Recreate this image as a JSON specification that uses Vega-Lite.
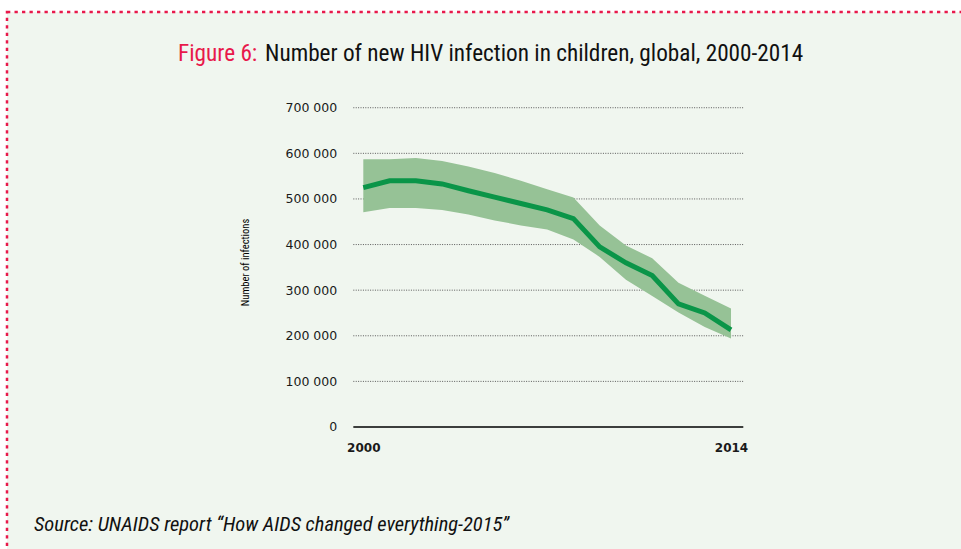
{
  "$schema": "https://vega.github.io/schema/vega-lite/v6.json",
  "width": 957,
  "height": 540,
  "autosize": {"type": "none"},
  "padding": {"left": 7, "top": 12, "right": -3, "bottom": -3},
  "background": "#ffffff",
  "datasets": {
    "hiv": [
      {"year": 2000, "central": 525000, "upper": 587000, "lower": 471000},
      {"year": 2001, "central": 540000, "upper": 587000, "lower": 480000},
      {"year": 2002, "central": 540000, "upper": 590000, "lower": 480000},
      {"year": 2003, "central": 533000, "upper": 583000, "lower": 476000},
      {"year": 2004, "central": 518000, "upper": 571000, "lower": 466000},
      {"year": 2005, "central": 504000, "upper": 557000, "lower": 453000},
      {"year": 2006, "central": 490000, "upper": 540000, "lower": 442000},
      {"year": 2007, "central": 476000, "upper": 521000, "lower": 433000},
      {"year": 2008, "central": 457000, "upper": 503000, "lower": 411000},
      {"year": 2009, "central": 395000, "upper": 442000, "lower": 373000},
      {"year": 2010, "central": 360000, "upper": 398000, "lower": 323000},
      {"year": 2011, "central": 332000, "upper": 370000, "lower": 287000},
      {"year": 2012, "central": 270000, "upper": 316000, "lower": 251000},
      {"year": 2013, "central": 250000, "upper": 288000, "lower": 219000},
      {"year": 2014, "central": 213000, "upper": 260000, "lower": 194000}
    ],
    "grid": [
      {"v": 0}, {"v": 100000}, {"v": 200000}, {"v": 300000},
      {"v": 400000}, {"v": 500000}, {"v": 600000}, {"v": 700000}
    ]
  },
  "resolve": {"axis": {"x": "independent", "y": "independent"}},
  "layer": [
    {
      "data": {"name": "grid"},
      "transform": [{"filter": "datum.v > 0"}],
      "mark": {"type": "rule", "stroke": "#5a5a5a", "strokeWidth": 1, "strokeDash": [1, 1.4]},
      "encoding": {
        "y": {"field": "v", "type": "quantitative", "scale": {"domain": [-274063, 909888], "nice": false, "zero": false}, "axis": null},
        "x": {"datum": 1999.62, "type": "quantitative", "scale": {"domain": [1986.434, 2022.871], "nice": false, "zero": false}, "axis": null},
        "x2": {"datum": 2014.468}
      }
    },
    {
      "data": {"name": "grid"},
      "transform": [{"filter": "datum.v == 0"}],
      "mark": {"type": "rule", "stroke": "#000000", "strokeWidth": 1.4},
      "encoding": {
        "y": {"field": "v", "type": "quantitative", "scale": {"domain": [-274063, 909888], "nice": false, "zero": false}, "axis": null},
        "x": {"datum": 1999.62, "type": "quantitative", "scale": {"domain": [1986.434, 2022.871], "nice": false, "zero": false}, "axis": null},
        "x2": {"datum": 2014.468}
      }
    },
    {
      "data": {"name": "hiv"},
      "mark": {"type": "area", "color": "#96c296", "opacity": 1},
      "encoding": {
        "x": {
          "field": "year", "type": "quantitative",
          "scale": {"domain": [1986.434, 2022.871], "nice": false, "zero": false},
          "axis": {
            "orient": "bottom", "offset": -125, "values": [2000, 2014], "format": "d",
            "domain": false, "ticks": false, "tickSize": 0, "grid": false,
            "labelPadding": 24.7, "labelBaseline": "alphabetic", "labelAlign": "center",
            "labelFont": "DejaVu Sans", "labelFontSize": 12, "labelFontWeight": "bold",
            "labelColor": "#1a1a1a", "labelFlush": false, "title": null
          }
        },
        "y": {
          "field": "upper", "type": "quantitative",
          "scale": {"domain": [-274063, 909888], "nice": false, "zero": false},
          "axis": {
            "orient": "left", "offset": -329.7,
            "values": [0, 100000, 200000, 300000, 400000, 500000, 600000, 700000],
            "labelExpr": "replace(format(datum.value, ',d'), ',', ' ')",
            "domain": false, "ticks": false, "tickSize": 0, "grid": false,
            "labelPadding": 0, "labelAlign": "right", "labelBaseline": "middle",
            "labelFont": "DejaVu Sans", "labelFontSize": 12.5, "labelColor": "#1a1a1a",
            "title": "Number of infections",
            "titleFont": "Roboto Condensed", "titleFontSize": 10.5, "titleFontWeight": "normal",
            "titleColor": "#000000", "titleAngle": -90, "titleX": -88.7, "titleY": 250,
            "titleAlign": "center", "titleBaseline": "alphabetic"
          }
        },
        "y2": {"field": "lower"}
      }
    },
    {
      "data": {"name": "hiv"},
      "mark": {"type": "line", "color": "#0a9548", "strokeWidth": 5},
      "encoding": {
        "x": {"field": "year", "type": "quantitative", "scale": {"domain": [1986.434, 2022.871], "nice": false, "zero": false}, "axis": null},
        "y": {"field": "central", "type": "quantitative", "scale": {"domain": [-274063, 909888], "nice": false, "zero": false}, "axis": null}
      }
    },
    {
      "data": {"values": [{"t": "Figure 6:"}]},
      "mark": {"type": "text", "align": "right", "baseline": "alphabetic", "font": "Roboto Condensed, Roboto, sans-serif", "fontSize": 23.25, "color": "#e8194b"},
      "encoding": {
        "x": {"datum": 1995.964, "type": "quantitative", "scale": {"domain": [1986.434, 2022.871], "nice": false, "zero": false}, "axis": null},
        "y": {"datum": 802456, "type": "quantitative", "scale": {"domain": [-274063, 909888], "nice": false, "zero": false}, "axis": null},
        "text": {"field": "t"}
      }
    },
    {
      "data": {"values": [{"t": "Number of new HIV infection in children, global, 2000-2014"}]},
      "mark": {"type": "text", "align": "left", "baseline": "alphabetic", "font": "Roboto Condensed, Roboto, sans-serif", "fontSize": 23.25, "color": "#111111"},
      "encoding": {
        "x": {"datum": 1996.257, "type": "quantitative", "scale": {"domain": [1986.434, 2022.871], "nice": false, "zero": false}, "axis": null},
        "y": {"datum": 802456, "type": "quantitative", "scale": {"domain": [-274063, 909888], "nice": false, "zero": false}, "axis": null},
        "text": {"field": "t"}
      }
    },
    {
      "data": {"values": [{"t": "Source: UNAIDS report “How AIDS changed everything-2015”"}]},
      "mark": {"type": "text", "align": "left", "baseline": "alphabetic", "font": "Roboto Condensed, Roboto, sans-serif", "fontSize": 20.5, "fontStyle": "italic", "color": "#111111"},
      "encoding": {
        "x": {"datum": 1987.462, "type": "quantitative", "scale": {"domain": [1986.434, 2022.871], "nice": false, "zero": false}, "axis": null},
        "y": {"datum": -228020, "type": "quantitative", "scale": {"domain": [-274063, 909888], "nice": false, "zero": false}, "axis": null},
        "text": {"field": "t"}
      }
    }
  ],
  "config": {
    "view": {"fill": "#f0f6ef", "stroke": "#e8194b", "strokeWidth": 2.5, "strokeDash": [3.3, 4.2]}
  }
}
